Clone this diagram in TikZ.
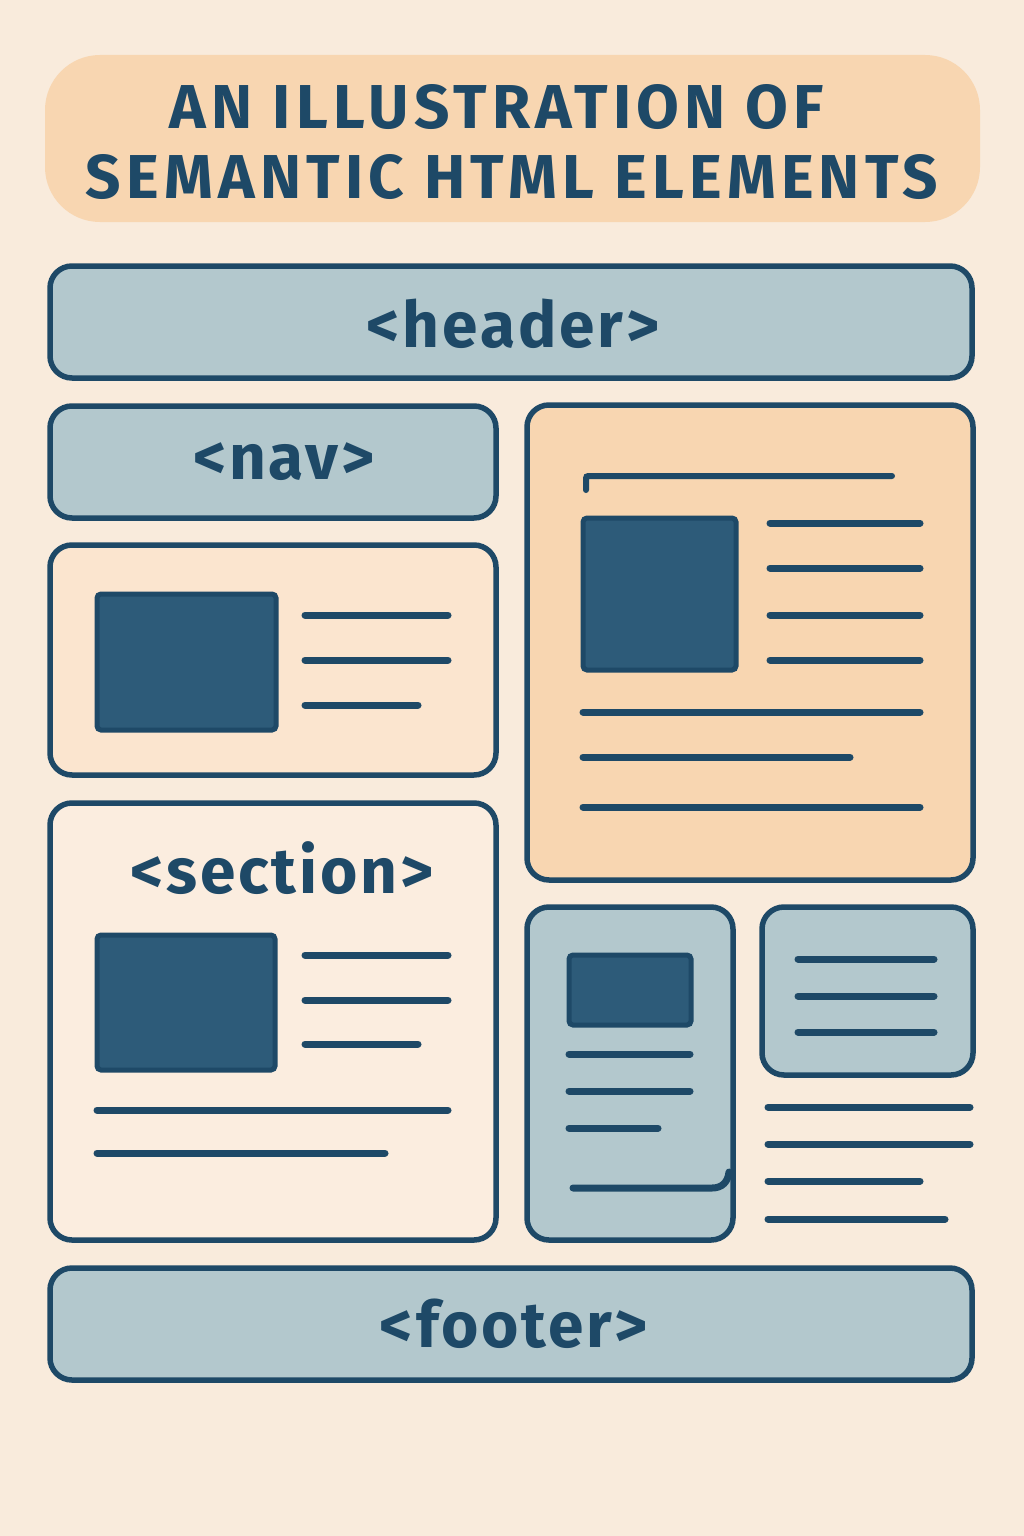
\documentclass[tikz,border=0pt]{standalone}
\usepackage{fontspec}
\setmainfont{Fira Sans}
\begin{document}
\definecolor{paper}{HTML}{F9EBDC}
\definecolor{peach}{HTML}{F8D6B1}
\definecolor{cardcream}{HTML}{FBE5CF}
\definecolor{secfill}{HTML}{FBEDDF}
\definecolor{slate}{HTML}{B3C8CD}
\definecolor{navy}{HTML}{1E4967}
\definecolor{imgblue}{HTML}{2D5B79}
\begin{tikzpicture}[x=1pt,y=-1pt,
  panel/.style={draw=navy, line width=5.5pt, rounded corners=22pt, inner sep=0pt},
  bluepanel/.style={panel, fill=slate},
  creampanel/.style={panel, fill=cardcream},
  txtline/.style={draw=navy, line width=7pt, line cap=round},
  picbox/.style={draw=navy, fill=imgblue, line width=5pt, rounded corners=4pt, inner sep=0pt},
  tagtext/.style={text=navy, font=\fontsize{64}{70}\selectfont\bfseries\addfontfeature{LetterSpace=4.5}},
  titletext/.style={text=navy, font=\fontsize{62}{72}\selectfont\bfseries\addfontfeature{LetterSpace=8.5}, align=center}]

% page
\fill[paper] (0,0) rectangle (1024,1536);
\useasboundingbox (0,0) rectangle (1024,1536);

% title banner
\node[fill=peach, rounded corners=55pt, minimum width=935pt, minimum height=167pt, inner sep=0pt] (banner) at (512.5,138.5) {};
\node[titletext] (title1) at (497,107) {AN ILLUSTRATION OF};
\node[titletext] (title2) at (512,177) {SEMANTIC HTML ELEMENTS};

% header
\node[bluepanel, minimum width=922pt, minimum height=112pt] (header) at (511,322) {};
\node[tagtext] (headerlbl) at (513,324) {<header>};

% nav
\node[bluepanel, minimum width=446pt, minimum height=112pt] (nav) at (273,462) {};
\node[tagtext] (navlbl) at (284,462) {<nav>};

% card under nav
\node[creampanel, minimum width=446pt, minimum height=230pt] (card) at (273,660) {};
\node[picbox, minimum width=179pt, minimum height=136pt] (cardpic) at (186.5,662) {};
\draw[txtline] (305,615) -- (448,615);
\draw[txtline] (305,660) -- (448,660);
\draw[txtline] (305,705) -- (418,705);

% section
\node[panel, fill=secfill, minimum width=446pt, minimum height=437pt] (section) at (273,1021.5) {};
\node[tagtext] (sectionlbl) at (282,868) {<section>};
\node[picbox, minimum width=178pt, minimum height=135pt] (secpic) at (186,1002.5) {};
\draw[txtline] (305,955) -- (448,955);
\draw[txtline] (305,1000) -- (448,1000);
\draw[txtline] (305,1044) -- (418,1044);
\draw[txtline] (97,1110) -- (448,1110);
\draw[txtline] (97,1153) -- (385,1153);

% article
\node[panel, fill=peach, minimum width=446pt, minimum height=475pt] (article) at (750,642.5) {};
\draw[navy, line width=6pt, line cap=round] (586,490) -- (586,481) .. controls (586,476) .. (591,476) -- (892,476);
\node[picbox, minimum width=153pt, minimum height=152pt] (artpic) at (659.5,594) {};
\draw[txtline] (770,523) -- (920,523);
\draw[txtline] (770,568) -- (920,568);
\draw[txtline] (770,615) -- (920,615);
\draw[txtline] (770,660) -- (920,660);
\draw[txtline] (583,712) -- (920,712);
\draw[txtline] (583,757) -- (850,757);
\draw[txtline] (583,807) -- (920,807);

% aside column
\node[bluepanel, minimum width=206pt, minimum height=333pt] (aside) at (630,1073.5) {};
\node[picbox, minimum width=122pt, minimum height=70pt] (asidepic) at (630,990) {};
\draw[txtline] (569,1054) -- (690,1054);
\draw[txtline] (569,1091) -- (690,1091);
\draw[txtline] (569,1128) -- (658,1128);
\draw[txtline] (573,1188) -- (712,1188) .. controls (722,1188) and (728,1182) .. (729,1172);

% small box
\node[bluepanel, minimum width=211pt, minimum height=168pt] (note) at (867.5,991) {};
\draw[txtline] (798,959) -- (934,959);
\draw[txtline] (798,996) -- (934,996);
\draw[txtline] (798,1032) -- (934,1032);

% loose lines
\draw[txtline] (768,1107) -- (970,1107);
\draw[txtline] (768,1144) -- (970,1144);
\draw[txtline] (768,1181) -- (920,1181);
\draw[txtline] (768,1219) -- (945,1219);

% footer
\node[bluepanel, minimum width=922pt, minimum height=112pt] (footer) at (511,1324) {};
\node[tagtext] (footerlbl) at (514,1324) {<footer>};
\end{tikzpicture}
\end{document}
